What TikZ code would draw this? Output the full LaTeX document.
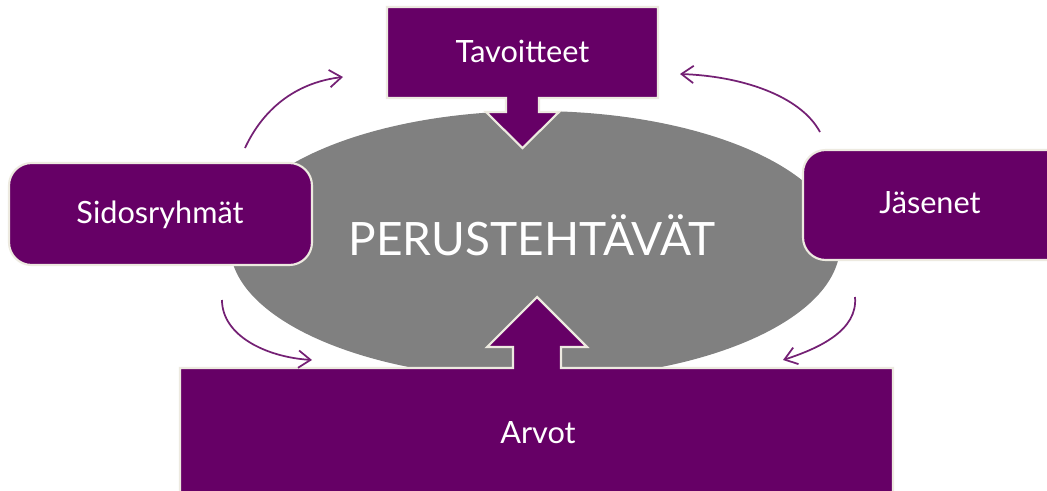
\documentclass[tikz,border=0pt]{standalone}
\usepackage{fontspec}
\setmainfont{Lato}
\usetikzlibrary{arrows.meta}
\definecolor{vio}{HTML}{660066}
\definecolor{violine}{HTML}{742074}
\definecolor{elgray}{HTML}{808080}
\definecolor{rim}{HTML}{EDEAE0}
\tikzset{
  boxshape/.style={fill=vio, draw=rim, line width=1.6pt, line join=miter},
  boxlabel/.style={text=white, font=\fontsize{23}{27}\selectfont, anchor=base, inner sep=0pt},
  cycarrow/.style={draw=violine, line width=1.3pt, -{Straight Barb[length=9pt,width=13pt,line width=1.3pt]}}
}
\begin{document}
\begin{tikzpicture}[x=0.75pt,y=-0.75pt]
\useasboundingbox (0,0) rectangle (1047,490);
\clip (0,0) rectangle (1047,490);
\fill[white] (0,0) rectangle (1047,490);
% central ellipse
\fill[elgray] (535,245) ellipse [x radius=305, y radius=134];
\node[text=white, font=\fontsize{34.5}{40}\selectfont, anchor=base, inner sep=0pt] (core) at (532,255) {PERUSTEHTÄVÄT};
% Tavoitteet with down arrow
\path[boxshape] (387,7) -- (658,7) -- (658,98) -- (539,98) -- (539,112) -- (559,112) -- (522.5,148) -- (486,112) -- (506,112) -- (506,98) -- (387,98) -- cycle;
\node[boxlabel] (tav) at (522.5,62) {Tavoitteet};
% Arvot with up arrow
\path[boxshape] (180,368) -- (513,368) -- (513,347) -- (487,347) -- (537,297) -- (587,347) -- (561,347) -- (561,368) -- (893,368) -- (893,500) -- (180,500) -- cycle;
\node[boxlabel] (arv) at (538,443) {Arvot};
% Sidosryhmät
\path[boxshape, rounded corners=17] (9,163) rectangle (312,265);
\node[boxlabel] (sid) at (160,223) {Sidosryhmät};
% Jäsenet
\path[boxshape, rounded corners=17] (803,150) rectangle (1080,260);
\node[boxlabel] (jas) at (930,213) {Jäsenet};
% cycle arrows
\coordinate (a1s) at (245,148); \coordinate (a1e) at (343,77);
\coordinate (a2s) at (820,132); \coordinate (a2e) at (680,74);
\coordinate (a3s) at (222,300); \coordinate (a3e) at (312,360);
\coordinate (a4s) at (855,297); \coordinate (a4e) at (783,360);
\draw[cycarrow] (a1s) .. controls (265,105) and (300,82) .. (a1e);
\draw[cycarrow] (a2s) .. controls (800,95) and (740,76) .. (a2e);
\draw[cycarrow] (a3s) .. controls (222,335) and (265,357) .. (a3e);
\draw[cycarrow] (a4s) .. controls (858,330) and (820,348) .. (a4e);
\end{tikzpicture}
\end{document}
